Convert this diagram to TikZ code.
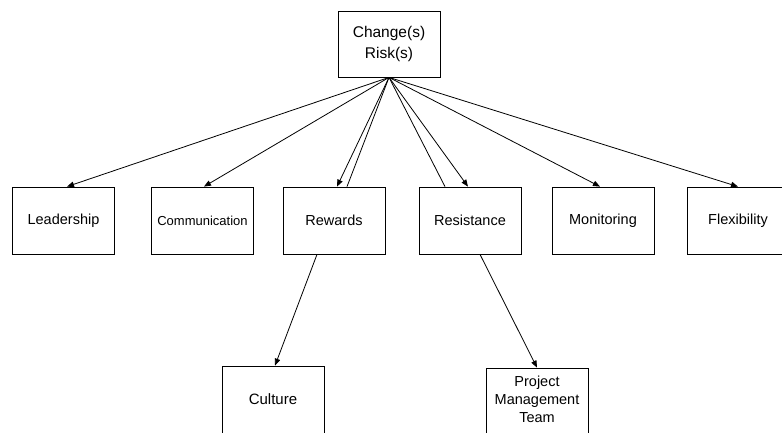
\documentclass[tikz,border=0pt]{standalone}
\usepackage{fontspec}
\setmainfont{Liberation Sans}
\usetikzlibrary{arrows.meta}
\begin{document}
\begin{tikzpicture}[x=1pt,y=-1pt,
  box/.style={draw,line width=0.8pt,minimum width=102pt,minimum height=67pt,inner sep=0pt,align=center,font=\fontsize{14.5}{17.5}\selectfont},
  conn/.style={line width=0.8pt,-{Triangle[length=7pt,width=5.5pt]}},
  plain/.style={line width=0.8pt}]
\fill[white] (0,0) rectangle (782,432);
\clip (0,0) rectangle (782,432);
\node[box,minimum height=66pt,font=\fontsize{15.5}{20.5}\selectfont] (top) at (389,44) {Change(s)\\Risk(s)};
\node[box] (lead) at (63.5,220.5) {Leadership};
\node[box,font=\fontsize{13}{16}\selectfont] (comm) at (202.5,220.5) {Communication};
\node[box] (rew) at (334,220.5) {Rewards};
\node[box] (res) at (470,220.5) {Resistance};
\node[box] (mon) at (603,220.5) {Monitoring};
\node[box] (flex) at (738,220.5) {Flexibility};
\node[box,font=\fontsize{15}{18}\selectfont] (cul) at (273,399.5) {Culture};
\node[box,text depth=4pt,font=\fontsize{14.5}{18}\selectfont] (pmt) at (537,401.5) {Project\\Management\\Team};
\draw[conn] (top.south) -- ([xshift=3.5pt]lead.north);
\draw[conn] (top.south) -- ([xshift=1.5pt]comm.north);
\draw[conn] (top.south) -- ([xshift=3pt]rew.north);
\draw[plain] ([xshift=13pt]rew.north) -- (top.south);
\draw[plain] ([xshift=-25pt]res.north) -- (top.south);
\draw[conn] (top.south) -- ([xshift=-2pt]res.north);
\draw[conn] (top.south) -- ([xshift=-3pt]mon.north);
\draw[conn] (top.south) -- (flex.north);
\draw[conn] ([xshift=-17pt]rew.south) -- ([xshift=2pt]cul.north);
\draw[conn] ([xshift=10pt]res.south) -- (pmt.north);
\end{tikzpicture}
\end{document}
